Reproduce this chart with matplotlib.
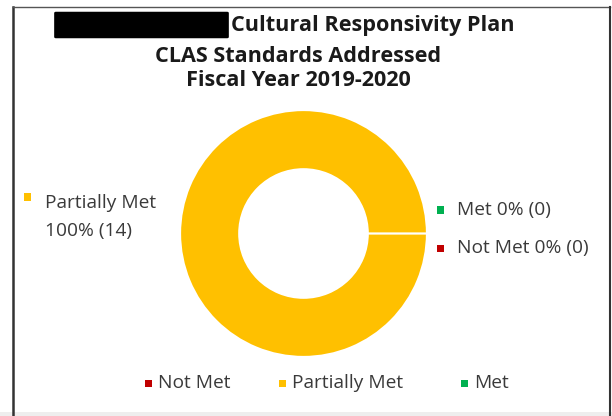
import matplotlib.pyplot as plt
from matplotlib.patches import Rectangle, FancyBboxPatch
from matplotlib.lines import Line2D

# CLAS standards status counts
categories = ['Not Met', 'Partially Met', 'Met']
counts = [0, 14, 0]
colors = ['#C00000', '#FFC000', '#00B050']

title_lines = ['Cultural Responsivity Plan', 'CLAS Standards Addressed', 'Fiscal Year 2019-2020']

W, H = 612, 416
fig = plt.figure(figsize=(W / 100, H / 100), dpi=100)
fig.patch.set_facecolor('white')

def px(x, y):
    # pixel position (from top left) -> figure fraction
    return x / W, 1 - y / H

font = 'Open Sans'
txtcol = '#3a3a3a'
lbl_size = 13.8
ttl_size = 15.6

# donut
cx, cy, r = 303.5, 233.5, 123.5
x0, y1 = px(cx - r, cy - r)
x1, y0 = px(cx + r, cy + r)
ax = fig.add_axes([x0, y0, x1 - x0, y1 - y0])
ax.pie(counts, colors=colors, startangle=0, counterclock=True, radius=1,
       wedgeprops=dict(width=0.48, edgecolor='white', linewidth=1.6))
ax.set_xlim(-1, 1)
ax.set_ylim(-1, 1)
ax.set_aspect('equal')
ax.axis('off')

total = sum(counts)
def pct(v):
    return '%d%% (%d)' % (round(100 * v / total), v)

def square(x, y, c, s=7):
    fx, fy = px(x - s / 2, y + s / 2)
    fig.patches.append(Rectangle((fx, fy), s / W, s / H, transform=fig.transFigure,
                                 facecolor=c, edgecolor='none'))

# data labels
i_pm = categories.index('Partially Met')
square(27, 197, colors[i_pm])
fig.text(*px(45, 203), categories[i_pm], family=font, fontsize=lbl_size, color=txtcol, va='center')
fig.text(*px(45, 231), pct(counts[i_pm]), family=font, fontsize=lbl_size, color=txtcol, va='center')

i_met = categories.index('Met')
square(440, 210, colors[i_met])
fig.text(*px(457, 210), 'Met ' + pct(counts[i_met]), family=font, fontsize=lbl_size, color=txtcol, va='center')

i_nm = categories.index('Not Met')
square(440, 248, colors[i_nm])
fig.text(*px(457, 248), 'Not Met ' + pct(counts[i_nm]), family=font, fontsize=lbl_size, color=txtcol, va='center')

# legend along the bottom
leg_x = [148, 282, 464]
for cat, c, lx in zip(categories, colors, leg_x):
    square(lx, 383, c)
    fig.text(*px(lx + 10, 383), cat, family=font, fontsize=lbl_size, color=txtcol, va='center')

# title
fig.patches.append(FancyBboxPatch(px(56, 37), (227 - 56) / W, 24 / H,
                                  boxstyle='round,pad=0.003', transform=fig.transFigure,
                                  facecolor='black', edgecolor='none'))
fig.text(*px(231, 25), title_lines[0], family=font, fontsize=ttl_size, weight='bold',
         color='#1a1a1a', va='center', ha='left')
fig.text(*px(298, 56), title_lines[1], family=font, fontsize=ttl_size, weight='bold',
         color='#1a1a1a', va='center', ha='center')
fig.text(*px(298, 81), title_lines[2], family=font, fontsize=ttl_size, weight='bold',
         color='#1a1a1a', va='center', ha='center')

# frame
fig.lines.append(Line2D([13 / W, 13 / W], [0, 1 - 7 / H], transform=fig.transFigure, color='#333333', lw=1.8))
fig.lines.append(Line2D([13 / W, 610 / W], [1 - 7 / H, 1 - 7 / H], transform=fig.transFigure, color='#555555', lw=1.0))
fig.lines.append(Line2D([610 / W, 610 / W], [0, 1 - 7 / H], transform=fig.transFigure, color='#333333', lw=1.5))
fig.patches.append(Rectangle((0, 0), 1, 4 / H, transform=fig.transFigure, facecolor='#eeeeee', edgecolor='none'))

fig.savefig('out.png', dpi=100)
